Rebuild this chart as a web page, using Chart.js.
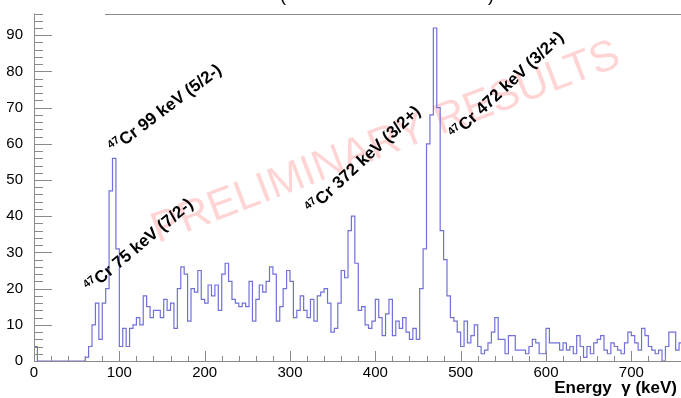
<!DOCTYPE html>
<html><head><meta charset="utf-8">
<script src="https://cdn.jsdelivr.net/npm/chart.js@4.4.1/dist/chart.umd.min.js"></script>
<style>
html,body{margin:0;padding:0;background:#fff;overflow:hidden;width:681px;height:398px}
#wrap{position:relative;width:684px;height:398px}
canvas{display:block}
</style>
</head><body><div id="wrap"><canvas id="c" width="684" height="398"></canvas></div>
<script>
// ---- data ----
const binStart = 0;      // keV
const binWidth = 4;      // keV
const counts = [
  4,0,0,0,0,0,0,0,0,0,
  0,0,0,0,0,1,4,10,16,6,
  16,20,47,56,31,4,9,4,9,10,
  12,10,18,15,12,14,14,12,17,14,
  16,9,20,26,24,11,20,19,25,17,
  16,21,18,21,14,24,27,22,17,16,
  15,16,15,22,11,17,21,19,22,26,
  24,11,15,20,25,22,12,14,18,14,
  12,17,11,18,19,20,16,8,9,16,
  25,23,36,40,27,14,15,10,9,11,
  17,12,7,13,17,7,11,9,12,8,
  6,9,6,20,31,60,68,92,70,36,
  28,18,12,11,8,4,11,5,7,10,
  4,2,3,5,8,12,6,6,2,7,
  7,3,3,3,2,4,6,5,2,2,
  9,5,5,5,3,5,3,4,2,7,
  4,1,4,2,5,6,7,3,2,5,
  4,3,2,5,8,7,5,3,9,7,
  4,3,2,3,0,4,8,8,3,5
];
const xTickLabels = [0,100,200,300,400,500,600,700];
const yTickLabels = [0,10,20,30,40,50,60,70,80,90];
const xMinorStep = 20;
const yMinorStep = 2;
const xTitle = 'Energy  \u03b3 (keV)';
const peakMass = ['47','47','47','47'];
const peakTexts = ['Cr 99 keV (5/2-)','Cr 75 keV (7/2-)','Cr 372 keV (3/2+)','Cr 472 keV (3/2+)'];
const watermark = 'PRELIMINARY RESULTS';

// ---- build step points (value held from left edge to right edge) ----
const points = counts.map((c,i)=>({x: binStart + (i+1)*binWidth, y: c}));
points.unshift({x: binStart, y: counts[0]});

const AXIS = '#8a8a8a';
const FONT = '"Liberation Sans", Arial, Helvetica, sans-serif';

// label anchors in data coordinates (keV, counts) and angle (deg)
const labelPlace = [
  {x: 94,   y: 57.3, a: 37},
  {x: 66,   y: 18.8, a: 40},
  {x: 326,  y: 40.5, a: 43},
  {x: 494,  y: 61,   a: 43}
];

const rootPlugin = {
  id: 'rootStyle',
  beforeDatasetsDraw(chart){
    const ctx = chart.ctx;
    ctx.save();
    ctx.translate(386, 143);
    ctx.rotate(-21*Math.PI/180);
    ctx.font = '43px ' + FONT;
    ctx.fillStyle = 'rgba(255,60,60,0.22)';
    ctx.textAlign = 'center';
    ctx.textBaseline = 'middle';
    ctx.fillText(watermark, 0, 0);
    ctx.restore();
  },
  afterDraw(chart){
    const ctx = chart.ctx;
    const xs = chart.scales.x, ys = chart.scales.y;
    const x0 = xs.getPixelForValue(0);
    const yb = ys.getPixelForValue(0);
    const xe = xs.getPixelForValue(xs.max);
    const yt = ys.getPixelForValue(ys.max);
    ctx.save();
    ctx.strokeStyle = AXIS;
    ctx.lineWidth = 1;
    ctx.beginPath();
    ctx.moveTo(Math.round(x0)+0.5, yt); ctx.lineTo(Math.round(x0)+0.5, yb+0.5);
    ctx.moveTo(x0, Math.round(yb)+0.5); ctx.lineTo(xe, Math.round(yb)+0.5);
    ctx.moveTo(105, Math.round(yt)+0.5); ctx.lineTo(xe, Math.round(yt)+0.5);
    ctx.stroke();
    ctx.beginPath();
    for(let v = 0; v <= xs.max + 0.01; v += xMinorStep){
      const px = Math.round(xs.getPixelForValue(v))+0.5;
      const major = xTickLabels.includes(v);
      ctx.moveTo(px, yb); ctx.lineTo(px, yb - (major ? 10 : 5));
    }
    for(let v = 0; v <= ys.max + 0.01; v += yMinorStep){
      const py = Math.round(ys.getPixelForValue(v))+0.5;
      const major = yTickLabels.includes(v);
      ctx.moveTo(x0, py); ctx.lineTo(x0 + (major ? 18 : 9), py);
    }
    ctx.stroke();
    ctx.fillStyle = '#000';
    ctx.font = '15px ' + FONT;
    ctx.textAlign = 'center';
    ctx.textBaseline = 'top';
    xTickLabels.forEach(v=>{
      ctx.fillText(String(v), xs.getPixelForValue(v), yb + 4);
    });
    ctx.textAlign = 'right';
    ctx.textBaseline = 'middle';
    yTickLabels.forEach(v=>{
      ctx.fillText(String(v), x0 - 11, ys.getPixelForValue(v));
    });
    ctx.font = 'bold 17px ' + FONT;
    ctx.textAlign = 'right';
    ctx.textBaseline = 'alphabetic';
    ctx.fillText(xTitle, 677, 393);
    ctx.font = '18px ' + FONT;
    ctx.textAlign = 'center';
    ctx.fillText('(', 283, 1);
    ctx.fillText(')', 491, 1);
    peakTexts.forEach((t,i)=>{
      const p = labelPlace[i];
      const px = xs.getPixelForValue(p.x), py = ys.getPixelForValue(p.y);
      ctx.save();
      ctx.translate(px, py);
      ctx.rotate(-p.a*Math.PI/180);
      ctx.textAlign = 'left';
      ctx.textBaseline = 'alphabetic';
      ctx.font = 'bold 11px ' + FONT;
      ctx.fillText(peakMass[i], 0, -6);
      const w = ctx.measureText(peakMass[i]).width;
      ctx.font = 'bold 17px ' + FONT;
      ctx.fillText(t, w + 0.5, 0);
      ctx.restore();
    });
    ctx.restore();
  }
};

new Chart(document.getElementById('c').getContext('2d'), {
  type: 'line',
  data: { datasets: [{
    data: points,
    stepped: 'after',
    borderColor: 'rgb(112,112,218)',
    borderWidth: 1.2,
    pointRadius: 0,
    fill: false,
    tension: 0
  }]},
  options: {
    responsive: false,
    animation: false,
    events: [],
    layout: { padding: { left: 34, top: 13.5, right: 1.5, bottom: 37 } },
    plugins: { legend: { display: false }, tooltip: { enabled: false } },
    scales: {
      x: { type: 'linear', min: 0, max: 760, display: false },
      y: { type: 'linear', min: 0, max: 96, display: false }
    }
  },
  plugins: [rootPlugin]
});
</script>
</body></html>
